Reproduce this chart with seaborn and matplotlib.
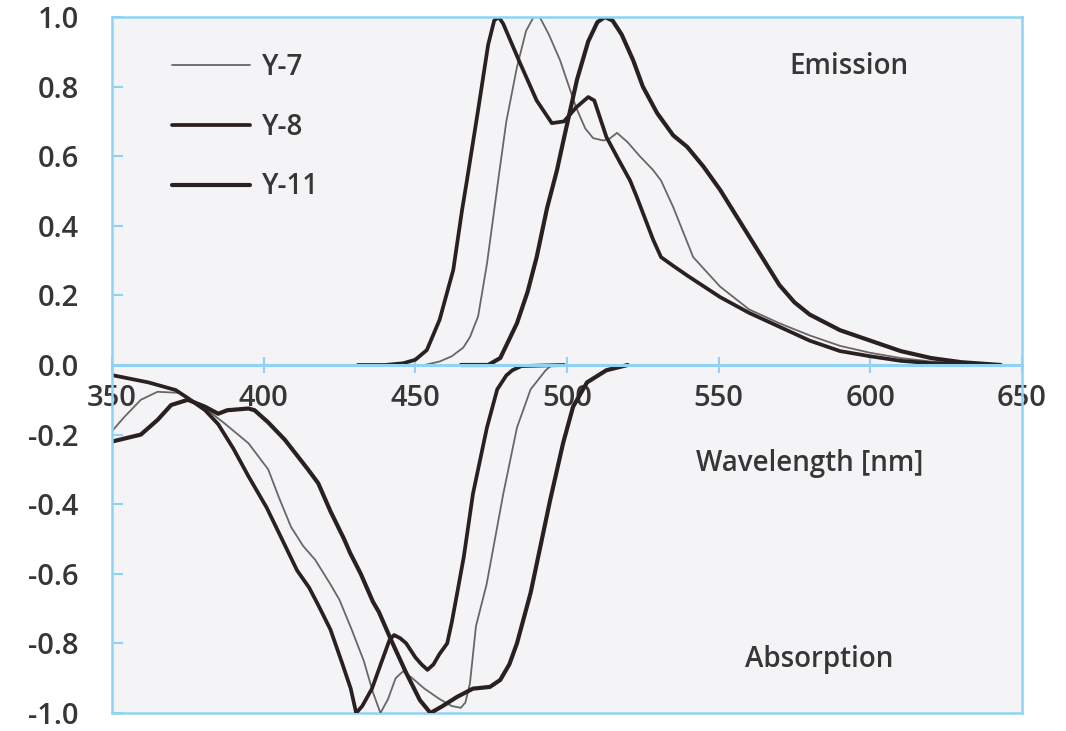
import matplotlib
matplotlib.use("Agg")
import matplotlib.pyplot as plt
import seaborn as sns
import numpy as np

# ---------------- data ----------------
# Emission spectra (normalised)
em_y7_x = [453, 458, 462, 465.8, 468, 470.7, 473.6, 476, 477.3, 480, 483.5, 486.5, 489, 491, 494, 497.7, 503, 506,
           508.6, 512, 514, 516.5, 520, 524, 528.4, 531, 535, 541.6, 550.5, 560, 570, 580, 590, 600, 610, 620, 635]
em_y7_y = [0.0, 0.01, 0.025, 0.05, 0.08, 0.14, 0.29, 0.445, 0.53, 0.70, 0.856, 0.96, 1.0, 1.0, 0.95, 0.876, 0.74, 0.68,
           0.652, 0.645, 0.65, 0.667, 0.64, 0.60, 0.56, 0.53, 0.454, 0.31, 0.225, 0.16, 0.12, 0.085, 0.055, 0.035, 0.02, 0.01, 0.0]

em_y8_x = [431, 440, 446, 450, 453.8, 458, 462.5, 465.4, 467, 470.7, 474, 476, 477.5, 479, 484.5, 490, 495, 499,
           503, 507, 509, 513, 517, 520.8, 523, 528.4, 531, 535, 540, 550.5, 560, 570, 580, 590, 600, 610, 620, 640]
em_y8_y = [0.0, 0.0, 0.005, 0.015, 0.043, 0.13, 0.273, 0.445, 0.53, 0.733, 0.92, 0.99, 1.0, 0.98, 0.868, 0.76, 0.695, 0.70,
           0.74, 0.77, 0.76, 0.655, 0.59, 0.53, 0.483, 0.36, 0.31, 0.285, 0.255, 0.195, 0.15, 0.11, 0.07, 0.04, 0.025, 0.012, 0.005, 0.0]

em_y11_x = [465, 474, 478, 483.5, 487, 490, 493.4, 496.7, 498.7, 503.3, 507, 510, 512.5, 515, 518, 521.8, 525, 529.7,
            535, 539.6, 545, 550.5, 555, 560, 565, 570, 575, 580, 590, 600, 610, 620, 630, 643]
em_y11_y = [0.0, 0.0, 0.02, 0.12, 0.21, 0.31, 0.45, 0.56, 0.64, 0.82, 0.93, 0.985, 1.0, 0.99, 0.95, 0.876, 0.80, 0.724,
            0.66, 0.627, 0.57, 0.503, 0.44, 0.37, 0.30, 0.23, 0.18, 0.145, 0.10, 0.07, 0.04, 0.02, 0.008, 0.0]

# Absorption spectra (normalised, drawn negative)
ab_y7_x = [350, 354, 359.5, 365, 372, 380, 387, 395, 401.5, 405, 409, 413, 417, 422, 425, 429, 433, 436, 438.5,
           441, 443.5, 446, 449, 453, 458, 462, 465, 466.5, 468, 470, 473.5, 479, 483.5, 488, 493, 495]
ab_y7_y = [-0.19, -0.15, -0.10, -0.077, -0.08, -0.12, -0.167, -0.225, -0.30, -0.38, -0.465, -0.52, -0.56, -0.63, -0.675,
           -0.76, -0.85, -0.94, -1.0, -0.96, -0.90, -0.88, -0.90, -0.93, -0.96, -0.98, -0.985, -0.97, -0.915, -0.75,
           -0.63, -0.37, -0.18, -0.07, -0.015, 0.0]

ab_y8_x = [350, 362, 371, 375, 380.7, 385, 390, 395, 401, 406, 411, 415, 418, 422, 426, 428.7, 430.5, 432.5, 435.7,
           439, 441.5, 443, 445, 447, 450, 452, 454, 456, 458, 460.5, 462, 463.7, 466, 469, 473.6, 477, 480, 482, 485, 499]
ab_y8_y = [-0.029, -0.05, -0.072, -0.095, -0.13, -0.17, -0.24, -0.32, -0.41, -0.50, -0.59, -0.64, -0.69, -0.76, -0.86,
           -0.93, -1.0, -0.98, -0.93, -0.85, -0.79, -0.776, -0.785, -0.80, -0.84, -0.86, -0.876, -0.86, -0.83, -0.80,
           -0.74, -0.66, -0.55, -0.37, -0.18, -0.07, -0.03, -0.015, -0.003, 0.0]

ab_y11_x = [350, 359.5, 365, 369.5, 375, 380.7, 385, 388, 395, 397, 401.5, 407, 414.6, 418, 422, 426.5, 428.5, 432,
            436, 438, 442, 447, 451.5, 455, 459, 463.7, 469, 474.6, 478, 481, 483.5, 488, 494.4, 498.7, 502, 506.6, 513, 520]
ab_y11_y = [-0.22, -0.20, -0.158, -0.115, -0.10, -0.12, -0.14, -0.13, -0.125, -0.13, -0.165, -0.215, -0.30, -0.34,
            -0.42, -0.50, -0.54, -0.60, -0.68, -0.71, -0.79, -0.885, -0.963, -1.0, -0.98, -0.954, -0.93, -0.925, -0.905,
            -0.86, -0.80, -0.655, -0.39, -0.225, -0.12, -0.05, -0.015, 0.0]

series_names = ["Y-7", "Y-8", "Y-11"]
x_ticks = [350, 400, 450, 500, 550, 600, 650]
y_ticks = [-1.0, -0.8, -0.6, -0.4, -0.2, 0.0, 0.2, 0.4, 0.6, 0.8, 1.0]
y_tick_labels = ["-1.0", "-0.8", "-0.6", "-0.4", "-0.2", "0.0", "0.2", "0.4", "0.6", "0.8", "1.0"]

# ---------------- style ----------------
sns.set_theme(style="white")
plt.rcParams['font.family'] = ['Open Sans', 'DejaVu Sans']

BLUE = '#8fd3f4'
DARK = '#2b2020'
THIN = '#6a6666'
TXT = '#363636'

fig = plt.figure(figsize=(10.66, 7.31), dpi=100)
ax = fig.add_axes([112 / 1066, 1 - 713 / 731, (1022 - 112) / 1066, (713 - 17) / 731])
ax.set_facecolor('#f4f4f6')

styles = {
    "Y-7": dict(color=THIN, lw=1.3),
    "Y-8": dict(color=DARK, lw=2.7),
    "Y-11": dict(color=DARK, lw=3.0),
}
em = {"Y-7": (em_y7_x, em_y7_y), "Y-8": (em_y8_x, em_y8_y), "Y-11": (em_y11_x, em_y11_y)}
ab = {"Y-7": (ab_y7_x, ab_y7_y), "Y-8": (ab_y8_x, ab_y8_y), "Y-11": (ab_y11_x, ab_y11_y)}

for name in series_names:
    st = styles[name]
    sns.lineplot(x=em[name][0], y=em[name][1], ax=ax, color=st['color'], linewidth=st['lw'],
                 label=name, solid_capstyle='round', solid_joinstyle='round')
    sns.lineplot(x=ab[name][0], y=ab[name][1], ax=ax, color=st['color'], linewidth=st['lw'],
                 label='_nolegend_', solid_capstyle='round', solid_joinstyle='round')

ax.set_xlim(350, 650)
ax.set_ylim(-1.0, 1.0)

# frame & axis through zero
for side in ['left', 'right', 'top']:
    ax.spines[side].set_color(BLUE)
    ax.spines[side].set_linewidth(1.8)
ax.spines['bottom'].set_position(('data', 0))
ax.spines['bottom'].set_color(BLUE)
ax.spines['bottom'].set_linewidth(2.2)
ax.axhline(-1.0, color=BLUE, lw=1.8, clip_on=False, zorder=0.5)

ax.set_xticks(x_ticks)
ax.set_xticklabels([str(v) for v in x_ticks])
ax.set_yticks(y_ticks)
ax.set_yticklabels(y_tick_labels)
ax.tick_params(axis='x', direction='inout', length=12, width=1.5, color=BLUE, pad=8,
               labelsize=21, labelcolor=TXT, bottom=True)
ax.tick_params(axis='y', direction='in', length=8, width=1.5, color=BLUE, pad=24,
               labelsize=21, labelcolor=TXT, left=True)
for lab in ax.get_xticklabels() + ax.get_yticklabels():
    lab.set_fontweight('semibold')

ax.set_xlabel("Wavelength [nm]", fontsize=20, color=TXT, fontweight='semibold')
ax.xaxis.set_label_coords(0.767, 0.358)
ax.xaxis.label.set_va('center')
ax.set_ylabel("")

ax.text(593, 0.858, "Emission", fontsize=20, color=TXT, ha='center', va='center', fontweight='semibold')
ax.text(583, -0.845, "Absorption", fontsize=20, color=TXT, ha='center', va='center', fontweight='semibold')

leg = ax.legend(loc='upper left', bbox_to_anchor=(0.066, 0.948), frameon=False, fontsize=20,
                handlelength=2.8, handletextpad=0.42, labelspacing=1.1, borderpad=0, borderaxespad=0)
for t in leg.get_texts():
    t.set_color(TXT)
    t.set_fontweight('semibold')

fig.savefig("out.png", dpi=100, facecolor='white')
